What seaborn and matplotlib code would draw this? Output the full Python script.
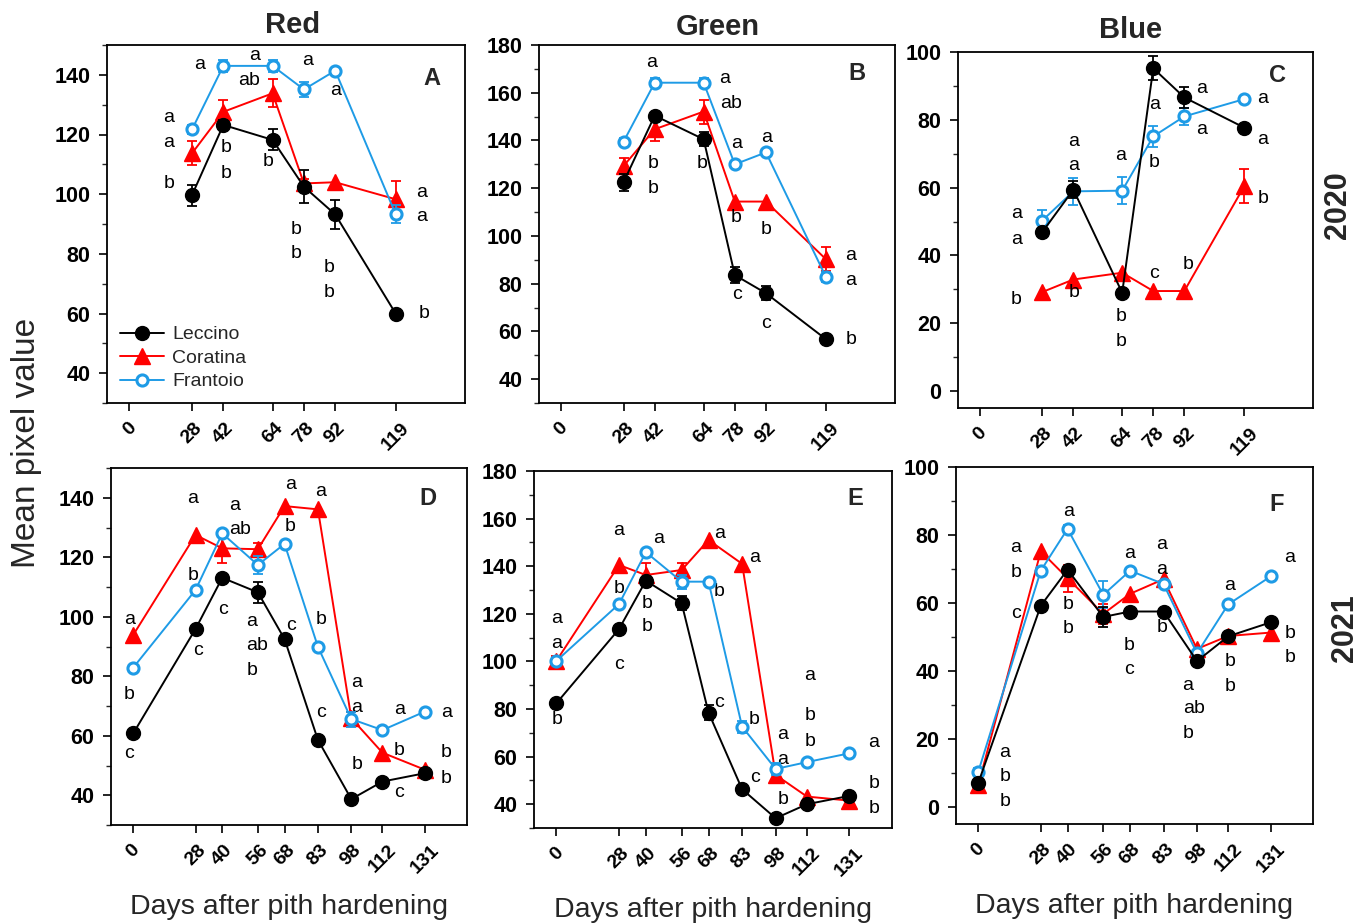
import matplotlib.pyplot as plt
import matplotlib.ticker as mticker
import seaborn as sns

# sampling days
days_2020 = [28, 42, 64, 78, 92, 119]
ticks_2020 = [0, 28, 42, 64, 78, 92, 119]
days_2021 = [0, 28, 40, 56, 68, 83, 98, 112, 131]
ticks_2021 = [0, 28, 40, 56, 68, 83, 98, 112, 131]

cultivars = ['Leccino', 'Coratina', 'Frantoio']

# A - Red 2020
red20_leccino = [99.7, 123.2, 118.2, 102.5, 93.2, 60.0]
red20_leccino_err = [3.5, 1.5, 3.5, 5.5, 5.0, 0]
red20_coratina = [113.7, 127.6, 133.8, 103.6, 104.0, 98.3]
red20_coratina_err = [4.0, 4.0, 4.7, 1.5, 0, 6.0]
red20_frantoio = [121.7, 143.0, 143.0, 135.1, 141.4, 93.3]
red20_frantoio_err = [1.5, 2.0, 2.0, 2.5, 1.0, 3.0]

# B - Green 2020
green20_leccino = [122.5, 150.4, 140.5, 83.6, 76.0, 56.7]
green20_leccino_err = [3.5, 1.0, 3.0, 3.5, 3.0, 0]
green20_coratina = [129.3, 144.7, 152.1, 114.4, 114.4, 90.2]
green20_coratina_err = [3.5, 5.0, 5.0, 0, 0, 5.0]
green20_frantoio = [139.5, 164.2, 164.2, 130.0, 135.0, 82.7]
green20_frantoio_err = [1.5, 2.0, 2.0, 0, 0, 2.0]

# C - Blue 2020
blue20_leccino = [46.9, 59.4, 29.0, 95.2, 86.6, 77.7]
blue20_leccino_err = [0, 2.5, 0, 3.5, 3.0, 0]
blue20_coratina = [29.2, 32.9, 34.9, 29.5, 29.5, 60.4]
blue20_coratina_err = [0, 0, 0, 0, 0, 5.0]
blue20_frantoio = [50.3, 58.9, 59.1, 75.1, 81.0, 86.1]
blue20_frantoio_err = [3.0, 4.0, 4.0, 3.0, 2.5, 0]

# D - Red 2021
red21_leccino = [60.8, 95.9, 113.1, 108.2, 92.5, 58.6, 38.7, 44.6, 47.4]
red21_leccino_err = [0, 0, 0, 3.5, 1.0, 0, 0, 0, 0]
red21_coratina = [93.9, 127.5, 123.0, 122.7, 137.2, 136.1, 65.9, 54.3, 48.6]
red21_coratina_err = [0, 0, 5.0, 2.0, 0, 0, 2.0, 0, 0]
red21_frantoio = [82.9, 109.0, 128.0, 117.4, 124.5, 89.9, 65.6, 61.9, 68.1]
red21_frantoio_err = [0.8, 1.0, 1.0, 3.0, 0, 0, 2.5, 0, 0]

# E - Green 2021
green21_leccino = [82.4, 113.6, 133.9, 124.4, 78.5, 46.3, 34.1, 40.0, 43.5]
green21_leccino_err = [0, 0, 1.5, 3.0, 3.0, 0, 0, 0, 0]
green21_coratina = [100.2, 140.5, 136.3, 138.4, 151.0, 141.0, 52.3, 43.2, 41.5]
green21_coratina_err = [2.0, 0, 5.0, 3.0, 0, 0, 2.0, 0, 0]
green21_frantoio = [100.2, 124.1, 145.9, 133.5, 133.5, 72.6, 54.8, 57.7, 61.4]
green21_frantoio_err = [1.0, 1.0, 1.0, 3.0, 0, 2.5, 2.5, 0, 0]

# F - Blue 2021
blue21_leccino = [7.1, 59.2, 69.8, 55.9, 57.5, 57.5, 42.9, 50.2, 54.3]
blue21_leccino_err = [0, 0, 0, 3.0, 0, 0, 0, 0, 0]
blue21_coratina = [6.5, 75.2, 67.3, 56.8, 62.7, 67.0, 46.5, 50.3, 51.3]
blue21_coratina_err = [0, 0, 4.0, 3.0, 0, 0, 0, 0, 0]
blue21_frantoio = [10.4, 69.5, 81.8, 62.4, 69.5, 65.6, 45.2, 59.6, 67.8]
blue21_frantoio_err = [1.0, 1.0, 1.0, 4.0, 0, 0, 0, 0, 0]

# significance letters (day, value, letter)
letters_A = [(31.6, 143.6, 'a'), (56.2, 146.6, 'a'), (53.5, 138.0, 'ab'), (79.7, 144.7, 'a'),
             (92.4, 134.7, 'a'), (17.7, 125.6, 'a'), (17.7, 117.3, 'a'), (17.7, 103.6, 'b'),
             (43.2, 115.6, 'b'), (43.2, 107.0, 'b'), (62.1, 111.1, 'b'), (74.5, 88.0, 'b'),
             (74.5, 80.2, 'b'), (89.4, 75.5, 'b'), (89.4, 67.1, 'b'), (131.7, 60.0, 'b'),
             (130.4, 100.5, 'a'), (130.4, 92.4, 'a')]
letters_B = [(40.4, 172.7, 'a'), (73.6, 165.8, 'a'), (76.1, 155.3, 'ab'), (78.8, 138.8, 'a'),
             (92.1, 141.3, 'a'), (41.5, 130.4, 'b'), (41.5, 119.7, 'b'), (63.2, 130.4, 'b'),
             (78.8, 107.8, 'b'), (92.1, 102.5, 'b'), (78.8, 75.3, 'c'), (92.1, 63.4, 'c'),
             (130.2, 91.6, 'a'), (130.2, 81.5, 'a'), (130.2, 56.7, 'b')]
letters_C = [(16.2, 52.4, 'a'), (16.2, 44.7, 'a'), (16.2, 27.0, 'b'), (42.3, 73.6, 'a'),
             (42.3, 66.5, 'a'), (42.3, 29.0, 'b'), (63.4, 69.4, 'a'), (63.4, 21.9, 'b'),
             (63.4, 14.5, 'b'), (78.4, 84.4, 'a'), (78.4, 67.5, 'b'), (78.4, 34.6, 'c'),
             (99.6, 89.3, 'a'), (99.6, 77.1, 'a'), (93.7, 37.3, 'b'), (127.5, 86.4, 'a'),
             (127.5, 74.1, 'a'), (127.5, 56.7, 'b')]
letters_D = [(26.7, 139.6, 'a'), (45.4, 137.3, 'a'), (47.9, 129.4, 'ab'), (70.7, 144.3, 'a'),
             (84.1, 142.0, 'a'), (70.7, 130.3, 'b'), (26.7, 114.0, 'b'), (-1.8, 99.1, 'a'),
             (-1.8, 73.7, 'b'), (-1.8, 53.9, 'c'), (28.9, 88.5, 'c'), (40.4, 102.5, 'c'),
             (53.3, 98.3, 'a'), (55.7, 90.5, 'ab'), (53.3, 82.1, 'b'), (71.1, 97.0, 'c'),
             (84.6, 99.1, 'b'), (84.6, 67.9, 'c'), (100.6, 77.8, 'a'), (100.6, 69.6, 'a'),
             (100.6, 50.4, 'b'), (119.5, 68.9, 'a'), (119.5, 55.2, 'b'), (119.5, 41.0, 'c'),
             (140.7, 67.7, 'a'), (140.7, 54.3, 'b'), (140.7, 45.7, 'b')]
letters_E = [(0.2, 118.1, 'a'), (0.2, 107.6, 'a'), (0.2, 75.7, 'b'), (27.9, 155.2, 'a'),
             (27.9, 130.7, 'b'), (27.9, 98.5, 'c'), (45.8, 151.7, 'a'), (40.7, 124.4, 'b'),
             (40.7, 114.6, 'b'), (72.9, 153.8, 'a'), (88.6, 143.8, 'a'), (72.9, 129.3, 'b'),
             (72.9, 82.7, 'c'), (88.6, 75.7, 'b'), (88.6, 51.4, 'c'), (101.3, 69.1, 'a'),
             (101.3, 58.9, 'a'), (101.3, 41.8, 'b'), (113.3, 93.9, 'a'), (113.3, 77.1, 'b'),
             (113.3, 66.3, 'b'), (142.0, 65.9, 'a'), (142.0, 48.8, 'b'), (142.0, 38.3, 'b')]
letters_F = [(12.0, 16.0, 'a'), (12.0, 8.9, 'b'), (12.0, 1.7, 'b'), (16.9, 76.2, 'a'),
             (16.9, 68.9, 'b'), (16.9, 56.9, 'c'), (40.4, 87.0, 'a'), (40.4, 59.5, 'b'),
             (40.4, 52.4, 'b'), (67.7, 74.7, 'a'), (67.7, 47.5, 'b'), (67.7, 40.4, 'c'),
             (82.3, 77.2, 'a'), (82.3, 70.0, 'a'), (82.3, 52.7, 'b'), (94.0, 35.8, 'a'),
             (96.5, 28.9, 'ab'), (94.0, 21.6, 'b'), (112.7, 65.1, 'a'), (112.7, 42.9, 'b'),
             (112.7, 35.4, 'b'), (139.7, 73.3, 'a'), (139.7, 51.0, 'b'), (139.7, 43.9, 'b')]

# panel tags (day, value, tag)
tag_A = (135.1, 138.8, 'A')
tag_B = (132.8, 168.1, 'B')
tag_C = (133.9, 93.2, 'C')
tag_D = (132.5, 139.8, 'D')
tag_E = (133.6, 168.5, 'E')
tag_F = (133.7, 89.0, 'F')

BLUE = '#1e9be6'
styles = {
    'Leccino': dict(color='black', marker='o', markersize=10, markerfacecolor='black',
                    markeredgecolor='black', markeredgewidth=1),
    'Coratina': dict(color='red', marker='^', markersize=11, markerfacecolor='red',
                     markeredgecolor='red', markeredgewidth=1),
    'Frantoio': dict(color=BLUE, marker='o', markersize=8, markerfacecolor='white',
                     markeredgecolor=BLUE, markeredgewidth=2.2),
}
draw_order = {'Coratina': 3, 'Frantoio': 4, 'Leccino': 5}

sns.set_theme(style='ticks')
plt.rcParams['font.family'] = ['Liberation Sans', 'DejaVu Sans']
plt.rcParams['axes.linewidth'] = 1.3

W, H = 1372, 924
fig = plt.figure(figsize=(W / 100, H / 100), dpi=100)


def rect(l, t, r, b):
    return [l / W, 1 - b / H, (r - l) / W, (b - t) / H]


def draw_panel(box, days, ticks, series, letters, tag, ylim, yticks, legend=False):
    ax = fig.add_axes(rect(*box))
    for name in ['Coratina', 'Frantoio', 'Leccino']:
        vals, err = series[name]
        st = styles[name]
        z = draw_order[name]
        keep = [i for i, e in enumerate(err) if e > 0]
        if keep:
            ax.errorbar([days[i] for i in keep], [vals[i] for i in keep],
                        yerr=[err[i] for i in keep], fmt='none', ecolor=st['color'],
                        elinewidth=1.3, capsize=3.5, capthick=1.3, zorder=z - 0.5)
        sns.lineplot(x=days, y=vals, ax=ax, linewidth=1.4, label=name, legend=False,
                     errorbar=None, zorder=z, **st)
    for x, y, s in letters:
        ax.text(x, y, s, fontsize=14, ha='center', va='center', color='black')
    ax.text(tag[0], tag[1], tag[2], fontsize=17, fontweight='bold',
            ha='center', va='center')

    ax.set_xlim(-10, 150)
    ax.set_ylim(*ylim)
    ax.set_xticks(ticks)
    ax.set_xticklabels([str(t) for t in ticks], rotation=45, ha='center',
                       fontsize=14, fontweight='bold')
    ax.set_yticks(yticks)
    ax.set_yticklabels([str(t) for t in yticks], fontsize=15.5, fontweight='bold')
    ax.yaxis.set_minor_locator(mticker.MultipleLocator(10))
    ax.tick_params(axis='both', which='major', direction='out', length=6, width=1.2,
                   pad=6, colors='black')
    ax.tick_params(axis='y', which='minor', direction='out', length=3.5, width=1.0)
    ax.set_xlabel('')
    ax.set_ylabel('')
    for sp in ax.spines.values():
        sp.set_visible(True)
        sp.set_color('black')
        sp.set_linewidth(1.3)
    ax.grid(False)

    if legend:
        handles, labels = ax.get_legend_handles_labels()
        order = [labels.index(c) for c in cultivars]
        ax.legend([handles[i] for i in order], [labels[i] for i in order],
                  loc='lower left', frameon=False, fontsize=14, handlelength=2.3,
                  labelspacing=0.3, borderaxespad=0.25, handletextpad=0.4)
    return ax


yt_red = [40, 60, 80, 100, 120, 140]
yt_green = [40, 60, 80, 100, 120, 140, 160, 180]
yt_blue = [0, 20, 40, 60, 80, 100]

draw_panel((107, 45, 465, 403), days_2020, ticks_2020,
           {'Leccino': (red20_leccino, red20_leccino_err),
            'Coratina': (red20_coratina, red20_coratina_err),
            'Frantoio': (red20_frantoio, red20_frantoio_err)},
           letters_A, tag_A, (30, 150), yt_red, legend=True)
draw_panel((539, 45, 895, 403), days_2020, ticks_2020,
           {'Leccino': (green20_leccino, green20_leccino_err),
            'Coratina': (green20_coratina, green20_coratina_err),
            'Frantoio': (green20_frantoio, green20_frantoio_err)},
           letters_B, tag_B, (30, 180), yt_green)
draw_panel((958, 52, 1313, 408), days_2020, ticks_2020,
           {'Leccino': (blue20_leccino, blue20_leccino_err),
            'Coratina': (blue20_coratina, blue20_coratina_err),
            'Frantoio': (blue20_frantoio, blue20_frantoio_err)},
           letters_C, tag_C, (-5, 100), yt_blue)
draw_panel((111, 468, 467, 825), days_2021, ticks_2021,
           {'Leccino': (red21_leccino, red21_leccino_err),
            'Coratina': (red21_coratina, red21_coratina_err),
            'Frantoio': (red21_frantoio, red21_frantoio_err)},
           letters_D, tag_D, (30, 150), yt_red)
draw_panel((534, 471, 892, 828), days_2021, ticks_2021,
           {'Leccino': (green21_leccino, green21_leccino_err),
            'Coratina': (green21_coratina, green21_coratina_err),
            'Frantoio': (green21_frantoio, green21_frantoio_err)},
           letters_E, tag_E, (30, 180), yt_green)
draw_panel((956, 467, 1313, 824), days_2021, ticks_2021,
           {'Leccino': (blue21_leccino, blue21_leccino_err),
            'Coratina': (blue21_coratina, blue21_coratina_err),
            'Frantoio': (blue21_frantoio, blue21_frantoio_err)},
           letters_F, tag_F, (-5, 100), yt_blue)

# column titles, row years and shared labels
fig.text(293 / W, 1 - 25 / H, 'Red', fontsize=21, fontweight='bold', ha='center', va='center')
fig.text(718 / W, 1 - 27 / H, 'Green', fontsize=21, fontweight='bold', ha='center', va='center')
fig.text(1131 / W, 1 - 30 / H, 'Blue', fontsize=21, fontweight='bold', ha='center', va='center')
fig.text(1338 / W, 1 - 205 / H, '2020', fontsize=22, fontweight='bold', rotation=90,
         ha='center', va='center')
fig.text(1345 / W, 1 - 628 / H, '2021', fontsize=22, fontweight='bold', rotation=90,
         ha='center', va='center')
fig.text(27 / W, 1 - 443 / H, 'Mean pixel value', fontsize=24, rotation=90,
         ha='center', va='center')
fig.text(289 / W, 1 - 907 / H, 'Days after pith hardening', fontsize=20.5, ha='center', va='center')
fig.text(713 / W, 1 - 910 / H, 'Days after pith hardening', fontsize=20.5, ha='center', va='center')
fig.text(1134 / W, 1 - 906 / H, 'Days after pith hardening', fontsize=20.5, ha='center', va='center')

fig.savefig('out.png', dpi=100)
